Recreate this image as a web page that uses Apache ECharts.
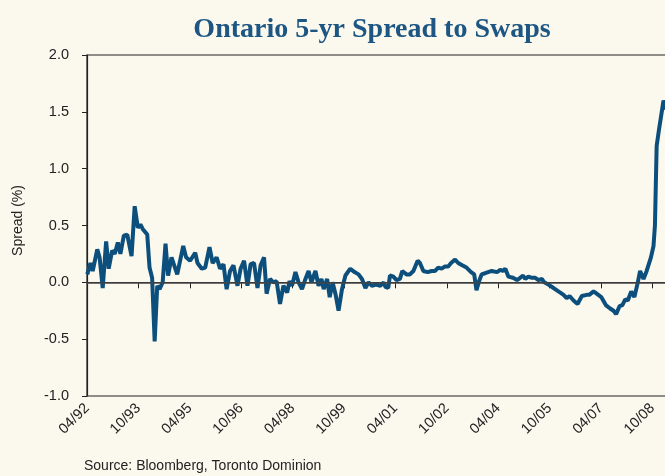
<!DOCTYPE html>
<html>
<head>
<meta charset="utf-8">
<script src="https://cdn.jsdelivr.net/npm/echarts@6/dist/echarts.min.js"></script>
<style>
  html, body { margin: 0; padding: 0; background: #fbf8ee; }
  #chart { width: 665px; height: 476px; }
</style>
</head>
<body>
<div id="chart"></div>
<script>
// months counted from 04/92, spread in %
const months = [
  0.1, 1.2, 2.0, 3.6, 4.4, 5.5, 6.7, 7.6, 8.8, 9.7, 10.8, 11.7, 12.9, 14.1, 15.6, 16.7, 17.8, 18.7, 19.5, 21.1,
  21.9, 22.8, 23.7, 24.6, 25.4, 26.5, 27.5, 28.4, 29.6, 31.6, 33.7, 34.7, 36.1, 37.9, 38.7, 40.2, 41.4, 42.9, 44.0, 45.4,
  46.6, 47.8, 48.9, 50.1, 51.3, 52.7, 53.8, 55.0, 56.2, 57.3, 58.5, 59.7, 60.8, 62.0, 62.9, 64.1, 65.3, 66.4, 67.6, 68.8,
  70.1, 70.9, 71.8, 73.0, 74.1, 75.3, 76.5, 77.6, 78.6, 80.0, 81.1, 82.1, 82.9, 84.1, 85.0, 86.0, 87.0, 88.1, 89.3, 90.5,
  92.2, 93.7, 95.1, 96.3, 97.5, 98.6, 99.8, 101.2, 102.7, 103.9, 104.5, 105.5, 106.1, 107.3, 108.4, 109.6, 110.4, 111.9, 113.1, 114.3,
  115.8, 116.6, 117.8, 119.3, 120.7, 121.9, 123.0, 124.2, 125.4, 126.5, 127.5, 128.9, 130.0, 131.4, 132.9, 134.5, 135.6, 136.4, 137.3, 138.2,
  139.4, 140.5, 141.7, 143.6, 144.7, 145.7, 146.5, 147.6, 149.2, 150.6, 151.7, 152.7, 153.5, 154.6, 155.8, 157.0, 158.1, 159.3, 160.1, 161.6,
  163.4, 165.1, 166.9, 168.0, 169.0, 170.4, 171.8, 173.3, 175.0, 175.9, 177.4, 178.5, 180.1, 181.7, 183.2, 184.4, 185.3, 186.5, 187.5, 188.5,
  189.4, 190.6, 191.7, 192.9, 193.7, 194.9, 196.0, 197.5, 198.4, 198.9, 199.5, 200.3, 201.9, 202.6
]
const spread = [
  0.07, 0.17, 0.10, 0.29, 0.22, -0.05, 0.36, 0.12, 0.28, 0.25, 0.35, 0.25, 0.41, 0.42, 0.23, 0.67, 0.48, 0.51, 0.47, 0.42,
  0.13, 0.04, -0.52, -0.03, -0.06, 0.00, 0.34, 0.06, 0.22, 0.07, 0.32, 0.22, 0.19, 0.26, 0.17, 0.12, 0.13, 0.31, 0.17, 0.22,
  0.12, 0.16, -0.06, 0.10, 0.15, -0.03, 0.12, 0.19, -0.03, 0.16, 0.17, -0.05, 0.15, 0.22, -0.10, 0.03, 0.00, 0.01, -0.19, -0.03,
  -0.09, 0.01, -0.03, 0.09, 0.00, -0.06, 0.03, 0.10, 0.00, 0.10, -0.03, 0.03, -0.06, 0.03, -0.13, 0.00, -0.10, -0.25, -0.06, 0.06,
  0.12, 0.09, 0.07, 0.03, -0.05, 0.00, -0.03, -0.02, -0.03, 0.00, -0.04, -0.05, 0.06, 0.05, 0.02, 0.03, 0.10, 0.07, 0.07, 0.10,
  0.19, 0.17, 0.10, 0.09, 0.10, 0.10, 0.13, 0.12, 0.14, 0.14, 0.17, 0.20, 0.17, 0.15, 0.13, 0.09, 0.07, -0.07, 0.01, 0.07,
  0.08, 0.09, 0.10, 0.09, 0.11, 0.10, 0.12, 0.05, 0.04, 0.02, 0.04, 0.06, 0.03, 0.05, 0.04, 0.04, 0.02, 0.03, 0.00, -0.02,
  -0.05, -0.08, -0.11, -0.14, -0.12, -0.16, -0.19, -0.12, -0.11, -0.11, -0.08, -0.10, -0.13, -0.20, -0.23, -0.25, -0.28, -0.21, -0.20, -0.15,
  -0.16, -0.08, -0.13, 0.00, 0.10, 0.03, 0.10, 0.22, 0.32, 0.50, 1.20, 1.34, 1.60, 1.52
]
const tickLabels = ['04/92', '10/93', '04/95', '10/96', '04/98', '10/99', '04/01', '10/02', '04/04', '10/05', '04/07', '10/08']
const yTicks = [-1.0, -0.5, 0.0, 0.5, 1.0, 1.5, 2.0]

const points = months.map((m, i) => [m, spread[i]])

const option = {
  backgroundColor: '#fbf8ee',
  animation: false,
  title: {
    text: 'Ontario 5-yr Spread to Swaps',
    left: 367,
    top: 11,
    textAlign: 'center',
    textStyle: {
      fontFamily: 'Liberation Serif',
      fontWeight: 'bold',
      fontSize: 28,
      color: '#1d5683'
    }
  },
  graphic: [{
    type: 'text',
    left: 84,
    top: 459,
    style: {
      text: 'Source: Bloomberg, Toronto Dominion',
      font: '14px "Liberation Sans"',
      fill: '#222'
    }
  }],
  grid: {
    left: 87,
    right: -4.5,
    top: 55,
    bottom: 80,
    outerBoundsMode: 'none',
    containLabel: false,
    show: true,
    borderColor: '#222',
    borderWidth: 1.2
  },
  xAxis: {
    type: 'value',
    min: 0,
    max: 204,
    interval: 18,
    axisLine: { show: true, lineStyle: { color: '#222', width: 1.2 } },
    axisTick: { show: true, length: 6, lineStyle: { color: '#222' } },
    splitLine: { show: false },
    axisLabel: {
      rotate: 45,
      margin: 10,
      fontFamily: 'Liberation Sans',
      fontSize: 14.5,
      color: '#222',
      formatter: v => (v % 18 === 0 && v / 18 < tickLabels.length) ? tickLabels[v / 18] : ''
    }
  },
  yAxis: {
    type: 'value',
    min: yTicks[0],
    max: yTicks[yTicks.length - 1],
    interval: 0.5,
    name: 'Spread (%)',
    nameLocation: 'middle',
    nameGap: 62,
    nameTextStyle: { fontFamily: 'Liberation Sans', fontSize: 14, color: '#222', padding: [0, 0, 0, 10] },
    axisLine: { show: true, lineStyle: { color: '#222', width: 1.2 } },
    axisTick: { show: true, length: 5, lineStyle: { color: '#222' } },
    splitLine: { show: false },
    axisLabel: {
      margin: 18,
      fontFamily: 'Liberation Sans',
      fontSize: 14.5,
      color: '#222',
      formatter: v => v.toFixed(1)
    }
  },
  series: [{
    type: 'line',
    data: points,
    showSymbol: false,
    lineStyle: { color: '#0c4f7c', width: 4 },
    itemStyle: { color: '#0c4f7c' },
    markLine: {
      silent: true,
      symbol: 'none',
      label: { show: false },
      lineStyle: { color: '#444', width: 1.5, type: 'solid' },
      data: [{ yAxis: 0 }]
    },
    z: 3
  }]
}

const chart = echarts.init(document.getElementById('chart'))
chart.setOption(option)
</script>
</body>
</html>
